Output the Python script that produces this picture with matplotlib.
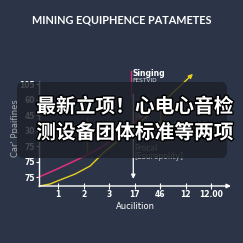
import matplotlib.pyplot as plt
import matplotlib.patheffects as pe
from matplotlib.patches import FancyBboxPatch
import numpy as np

# tick labels as shown on the chart
x_labels = ['1', '2', '3', '17', '46', '12', '12.00']
y_labels = ['75', '75', '75', '30', '45', '60', '105']

# curves (category positions)
pink_x = [0.255, 0.88, 1.47, 2.06, 2.65, 3.43, 4.14, 4.88]
pink_y = [0.0, 0.45, 0.90, 1.36, 1.87, 2.77, 3.74, 4.77]
yellow_x = [0.29, 0.69, 1.08, 1.67, 2.26, 2.77, 3.24, 4.22, 5.08, 5.78]
yellow_y = [-0.58, -0.45, -0.19, 0.19, 0.71, 1.55, 2.19, 3.55, 4.77, 5.87]
yellow_tip = (6.29, 6.65)

bg = '#2c3547'
fig = plt.figure(figsize=(2.43, 2.43), dpi=100, facecolor=bg)
ax = fig.add_axes([0.1605, 0.2346, 0.790, 0.428])
ax.set_facecolor(bg)

xs = np.arange(1, len(x_labels) + 1)
ys = np.arange(len(y_labels))

ax.plot(pink_x, pink_y, color='#e0307a', lw=1.1, clip_on=False)
ax.plot(yellow_x, yellow_y, color='#e8d020', lw=1.0, clip_on=False)
ax.annotate('', xy=yellow_tip, xytext=(yellow_x[-1], yellow_y[-1]),
            arrowprops=dict(arrowstyle='-|>', color='#e8d020', lw=1.0,
                            mutation_scale=6, shrinkA=0, shrinkB=0),
            annotation_clip=False)

# faint orange markers
ax.plot([2.14, 2.14], [1.6, 3.8], color='#c0602a', lw=0.8)
ax.plot([5.0, 5.0], [2.26, 4.45], color='#c0602a', lw=0.8)

# singing marker + down arrow
ax.plot([3.85, 3.85], [5.3, 6.85], color='#e0307a', lw=1.0, clip_on=False)
ax.annotate('', xy=(3.95, -0.3), xytext=(3.95, 5.5),
            arrowprops=dict(arrowstyle='-|>', color='white', lw=0.9,
                            mutation_scale=6))
ax.text(3.92, 6.65, 'Singing', color='white', fontsize=5.5, fontweight='bold',
        ha='left', va='center', clip_on=False)
ax.text(3.92, 6.2, 'FESTVID', color='#dddddd', fontsize=4.2,
        ha='left', va='center', clip_on=False)
ax.text(4.0, 3.9, 'PP3', color='#bbbbbb', fontsize=5.5, ha='left', va='center')
ax.text(4.9, 3.35, 'Therkanc: SD', color='#bbbbbb', fontsize=5.5,
        ha='left', va='center')
ax.text(4.0, 1.82, 'Procal', color='#bbbbbb', fontsize=5.5, ha='left', va='center')
ax.text(4.0, 1.3, '[Esurepolity]', color='#bbbbbb', fontsize=5.5,
        ha='left', va='center')

ax.set_xlim(0.255, 7.78)
ax.set_ylim(-0.58, 6.13)
ax.set_xticks(xs)
ax.set_xticklabels(x_labels)
ax.set_yticks(ys)
ax.set_yticklabels(y_labels)
ax.tick_params(axis='x', colors='white', labelsize=5.5, direction='inout',
               length=4, width=0.8, pad=1)
ax.tick_params(axis='y', colors='white', labelsize=5.5, direction='out',
               length=2, width=0.8, pad=1)
for t in ax.get_xticklabels() + ax.get_yticklabels():
    t.set_fontweight('bold')
for s in ['top', 'right', 'bottom']:
    ax.spines[s].set_visible(False)
ax.spines['left'].set_color('white')
ax.spines['left'].set_linewidth(1.0)
ax.annotate('', xy=(1.0, 0), xytext=(0, 0), xycoords='axes fraction',
            arrowprops=dict(arrowstyle='-|>', color='white', lw=1.0,
                            mutation_scale=6, shrinkA=0, shrinkB=0))
ax.set_xlabel('Aucilition', color='white', fontsize=6, labelpad=2)
ax.set_ylabel("Car' Ppaifines", color='#aaaaaa', fontsize=6)
ax.yaxis.set_label_coords(-0.1, 0.56)

fig.text(0.5, 0.918, 'MINING EQUIPHENCE PATAMETES', color='white',
         fontsize=7.8, fontweight='bold', family='Lato', ha='center', va='center')

# dark overlay with caption
box = FancyBboxPatch((17 / 243, 85 / 243), 210 / 243, 76 / 243,
                     boxstyle='round,pad=0,rounding_size=0.025',
                     transform=fig.transFigure, facecolor='#1c2028',
                     edgecolor='none', alpha=0.82, zorder=10)
fig.patches.append(box)
for txt, yy in [('最新立项！心电心音检', 1 - 107 / 243), ('测设备团体标准等两项', 1 - 133 / 243)]:
    fig.text(135 / 243, yy, txt, color='white', fontsize=14.2, fontweight='bold',
             family=['Noto Sans CJK SC', 'DejaVu Sans'], ha='center', va='center',
             zorder=11, path_effects=[pe.withStroke(linewidth=2, foreground='black')])

fig.savefig('out.png', dpi=100, facecolor=bg)
